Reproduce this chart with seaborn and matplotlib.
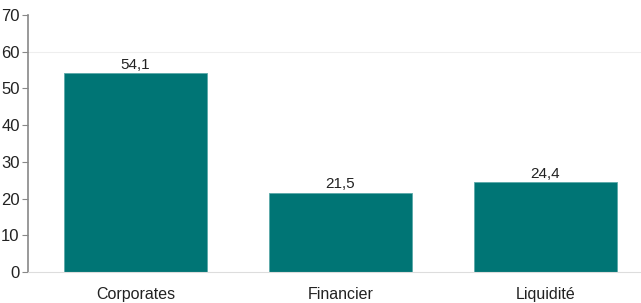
import pandas as pd
import matplotlib.pyplot as plt
import seaborn as sns

# Data
categories = ['Corporates', 'Financier', 'Liquidité']
values = [54.1, 21.5, 24.4]
df = pd.DataFrame({'Categorie': categories, 'Valeur': values})

sns.set_style('white')
plt.rcParams['font.family'] = ['Liberation Sans', 'DejaVu Sans']

fig = plt.figure(figsize=(6.41, 3.03), dpi=100)
ax = fig.add_axes([28 / 641, 31 / 303, 1 - 28 / 641, 257 / 303])

sns.barplot(data=df, x='Categorie', y='Valeur', color='#007575',
            width=0.7, saturation=1, edgecolor='#5aa9a9', linewidth=0.6, ax=ax)

# faint gridline at 60
ax.axhline(60, color='#eeeeee', linewidth=0.8, zorder=0)

for i, v in enumerate(values):
    ax.text(i, v + 0.5, f'{v:.1f}'.replace('.', ','), ha='center', va='bottom',
            fontsize=11, color='#222222')

ax.set_ylim(0, 70)
ax.set_xlim(-0.524, 2.466)
ax.set_yticks(range(0, 71, 10))
ax.set_xlabel('')
ax.set_ylabel('')
ax.tick_params(axis='y', left=True, length=4, width=0.8, color='#888888',
               labelsize=12, labelcolor='#222222', pad=2)
ax.tick_params(axis='x', bottom=False, labelsize=11.5, labelcolor='#222222', pad=7)

for s in ['top', 'right']:
    ax.spines[s].set_visible(False)
ax.spines['left'].set_color('#888888')
ax.spines['left'].set_linewidth(1.2)
ax.spines['bottom'].set_color('#dddddd')
ax.spines['bottom'].set_linewidth(0.8)

plt.savefig('out.png', dpi=100)
